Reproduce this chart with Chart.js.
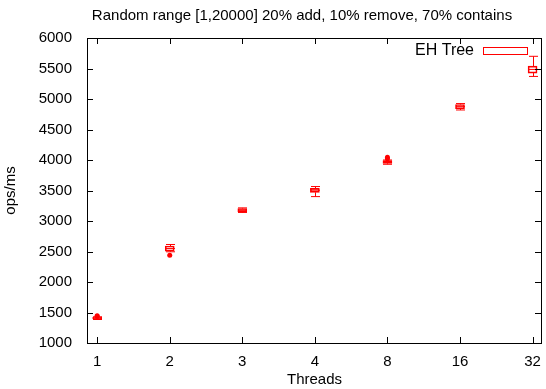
<!DOCTYPE html>
<html>
<head>
<meta charset="utf-8">
<script src="https://cdn.jsdelivr.net/npm/chart.js@4.4.1/dist/chart.umd.min.js"></script>
<style>
  html, body { margin: 0; padding: 0; background: #fff; }
  #wrap { width: 546px; height: 389px; position: relative; }
</style>
</head>
<body>
<div id="wrap"><canvas id="boxChart"></canvas></div>
<script>
// thread counts on the x axis
let threads = ['1', '2', '3', '4', '8', '16', '32'];
// box plot stats, ops/ms
let whiskerLow  = [1385, 2495, 3140, 3400, 3930, 4820, 5370];
let q1          = [1395, 2505, 3155, 3470, 3945, 4840, 5425];
let median      = [1405, 2550, 3180, 3505, 3965, 4875, 5485];
let q3          = [1420, 2590, 3205, 3535, 3990, 4910, 5540];
let whiskerHigh = [1430, 2615, 3215, 3565, 4000, 4925, 5700];
// outliers
let outlierThread = ['1', '1', '2', '8', '8'];
let outlierValue  = [1435, 1445, 2440, 4020, 4045];
let yTicks = [1000, 1500, 2000, 2500, 3000, 3500, 4000, 4500, 5000, 5500, 6000];

let red = 'rgb(255, 0, 0)';
let fontFamily = '"Liberation Sans", Arial, Helvetica, sans-serif';
let fontSize = 15;

function pos(label) {
    return threads.indexOf(label) + 1;
}

let boxData = threads.map((t, i) => ({ x: i + 1, y: [q1[i], q3[i]] }));
let outlierData = outlierThread.map((t, i) => ({ x: pos(t), y: outlierValue[i] }));

// gnuplot look: frame, inward ticks, whiskers, medians, title, key
let gnuplotPlugin = {
    id: 'gnuplot',
    afterDatasetsDraw(chart) {
        let ctx = chart.ctx;
        let xs = chart.scales.x;
        let ys = chart.scales.y;
        let a = chart.chartArea;
        let half = 4.5;

        ctx.save();
        ctx.strokeStyle = red;
        ctx.lineWidth = 1;
        threads.forEach((t, i) => {
            let px = Math.round(xs.getPixelForValue(i + 1)) + 0.5;
            let yLo = ys.getPixelForValue(whiskerLow[i]);
            let yQ1 = ys.getPixelForValue(q1[i]);
            let yQ3 = ys.getPixelForValue(q3[i]);
            let yHi = ys.getPixelForValue(whiskerHigh[i]);
            let yMed = ys.getPixelForValue(median[i]);
            ctx.beginPath();
            ctx.moveTo(px, yQ1); ctx.lineTo(px, yLo);
            ctx.moveTo(px - half, yLo); ctx.lineTo(px + half, yLo);
            ctx.moveTo(px, yQ3); ctx.lineTo(px, yHi);
            ctx.moveTo(px - half, yHi); ctx.lineTo(px + half, yHi);
            ctx.moveTo(px - half, yMed); ctx.lineTo(px + half, yMed);
            ctx.stroke();
        });

        // frame
        ctx.strokeStyle = '#000';
        ctx.strokeRect(Math.round(a.left) + 0.5, Math.round(a.top) + 0.5,
            Math.round(a.right - a.left) - 1, Math.round(a.bottom - a.top));

        // inward tick marks, mirrored
        let tl = 6;
        ctx.beginPath();
        ys.ticks.forEach(tk => {
            let py = Math.round(ys.getPixelForValue(tk.value)) + 0.5;
            ctx.moveTo(a.left, py); ctx.lineTo(a.left + tl, py);
            ctx.moveTo(a.right - 1, py); ctx.lineTo(a.right - 1 - tl, py);
        });
        xs.ticks.forEach(tk => {
            let px = Math.round(xs.getPixelForValue(tk.value)) + 0.5;
            ctx.moveTo(px, a.bottom); ctx.lineTo(px, a.bottom - tl);
            ctx.moveTo(px, a.top); ctx.lineTo(px, a.top + tl);
        });
        ctx.stroke();

        // title
        ctx.fillStyle = '#000';
        ctx.font = fontSize + 'px ' + fontFamily;
        ctx.textAlign = 'center';
        ctx.textBaseline = 'middle';
        ctx.fillText('Random range [1,20000] 20% add, 10% remove, 70% contains', 302, 16);

        // key
        ctx.textAlign = 'right';
        ctx.font = '16px ' + fontFamily;
        ctx.fillText('EH Tree', 474, 51);
        ctx.strokeStyle = red;
        ctx.strokeRect(483.5, 47.5, 44, 7);
        ctx.restore();
    }
};

let chart = new Chart(document.getElementById('boxChart'), {
    type: 'bar',
    data: {
        datasets: [{
            type: 'bar',
            label: 'EH Tree',
            data: boxData,
            backgroundColor: 'rgba(255, 255, 255, 0)',
            borderColor: red,
            borderWidth: 1,
            borderSkipped: false,
            barThickness: 9
        }, {
            type: 'scatter',
            label: 'outliers',
            data: outlierData,
            pointStyle: 'circle',
            pointRadius: 2.5,
            backgroundColor: red,
            borderColor: red,
            borderWidth: 0
        }]
    },
    options: {
        responsive: true,
        maintainAspectRatio: false,
        animation: false,
        layout: { padding: { top: 38, right: 1, left: 0, bottom: 0 } },
        plugins: {
            legend: { display: false },
            tooltip: { enabled: false }
        },
        scales: {
            x: {
                type: 'linear',
                offset: false,
                min: 0.86,
                max: 7.13,
                grid: { display: false, offset: false },
                border: { display: false },
                afterBuildTicks: (scale) => {
                    scale.ticks = threads.map((t, i) => ({ value: i + 1 }));
                },
                afterFit: (scale) => { scale.height = 46; },
                ticks: {
                    padding: 2,
                    color: '#000',
                    font: { family: fontFamily, size: fontSize },
                    maxRotation: 0,
                    callback: (v) => threads[v - 1]
                },
                title: {
                    display: true,
                    text: 'Threads',
                    color: '#000',
                    font: { family: fontFamily, size: fontSize },
                    padding: { top: 0, bottom: 0 }
                }
            },
            y: {
                min: 1000,
                max: 6000,
                grid: { display: false },
                border: { display: false },
                afterBuildTicks: (scale) => {
                    scale.ticks = yTicks.map(v => ({ value: v }));
                },
                afterFit: (scale) => { scale.width = 87; },
                ticks: {
                    padding: 7,
                    color: '#000',
                    font: { family: fontFamily, size: fontSize },
                    callback: (v) => String(v)
                },
                title: {
                    display: true,
                    text: 'ops/ms',
                    color: '#000',
                    font: { family: fontFamily, size: fontSize },
                    padding: { top: 2, bottom: 0 }
                }
            }
        }
    },
    plugins: [gnuplotPlugin]
});
</script>
</body>
</html>
